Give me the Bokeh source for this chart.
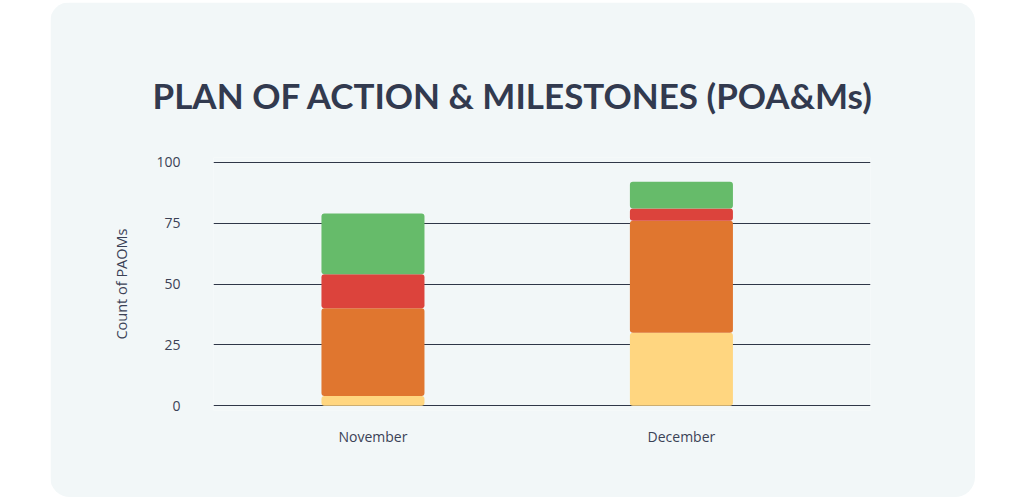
from bokeh.plotting import figure
from bokeh.models import Range1d, FixedTicker, Title
from bokeh.embed import file_html
from bokeh.resources import INLINE

# ---- data ----
months = ["November", "December"]
month_pos = [0, 1]
series_names = ["Low", "Moderate", "High", "Closed"]
low = [4, 30]
moderate = [36, 46]
high = [14, 5]
closed = [25, 11]
colors = ["#FFD680", "#E0762F", "#DC433C", "#66BB6A"]
y_ticks = [0, 25, 50, 75, 100]

CARD = "#F2F7F8"
TEXT = "#3B4256"

p = figure(width=925, height=495, output_backend="svg", toolbar_location=None,
           x_range=Range1d(-0.517, 1.613), y_range=Range1d(-2, 102),
           min_border_left=163, min_border_right=105, min_border_top=155,
           min_border_bottom=87,
           background_fill_color=CARD, border_fill_color=CARD, outline_line_color=None)
p.styles = {"margin-left": "50px", "margin-top": "2px", "border-radius": "20px",
            "overflow": "hidden"}

p.title = Title(text="PLAN OF ACTION & MILESTONES (POA&Ms)", align="left",
                offset=-61, standoff=83,
                text_font="Lato", text_font_size="35px", text_font_style="bold",
                text_color="#323A4F")

series = [low, moderate, high, closed]
bottoms = [0, 0]
for vals, col in zip(series, colors):
    tops = [b + v for b, v in zip(bottoms, vals)]
    p.vbar(x=month_pos, bottom=bottoms, top=tops, width=0.334, fill_color=col,
           line_color=None, border_radius=3)
    bottoms = tops

p.xgrid.grid_line_color = None
p.ygrid.ticker = FixedTicker(ticks=y_ticks)
p.ygrid.grid_line_color = "#2F3748"
p.ygrid.grid_line_width = 1

p.yaxis.ticker = FixedTicker(ticks=y_ticks)
p.yaxis.axis_line_color = None
p.yaxis.major_tick_line_color = None
p.yaxis.minor_tick_line_color = None
p.yaxis.major_label_standoff = 27
p.yaxis.major_label_text_font = "Open Sans"
p.yaxis.major_label_text_font_size = "14px"
p.yaxis.major_label_text_color = TEXT
p.yaxis.axis_label = "Count of PAOMs"
p.yaxis.axis_label_text_font = "Open Sans"
p.yaxis.axis_label_text_font_size = "14.5px"
p.yaxis.axis_label_text_font_style = "normal"
p.yaxis.axis_label_text_color = TEXT
p.yaxis.axis_label_standoff = 22

p.xaxis.ticker = FixedTicker(ticks=month_pos)
p.xaxis.major_label_overrides = {pos: m for pos, m in zip(month_pos, months)}
p.xaxis.axis_line_color = None
p.xaxis.major_tick_line_color = None
p.xaxis.minor_tick_line_color = None
p.xaxis.major_label_standoff = 10
p.xaxis.major_label_text_font = "Open Sans"
p.xaxis.major_label_text_font_size = "14px"
p.xaxis.major_label_text_color = TEXT

open("out.html", "w").write(file_html(p, INLINE))
